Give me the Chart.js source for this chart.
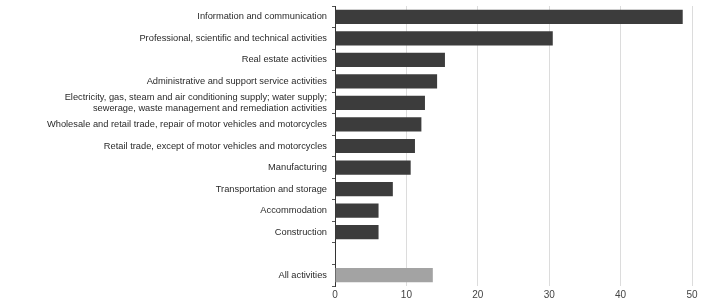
<!DOCTYPE html>
<html>
<head>
<meta charset="utf-8">
<script src="https://cdn.jsdelivr.net/npm/chart.js@4.4.0/dist/chart.umd.min.js"></script>
<style>
  html, body { margin: 0; padding: 0; background: #fff; }
  #wrap { width: 703px; height: 301px; }
</style>
</head>
<body>
<div id="wrap"><canvas id="chart" width="703" height="301"></canvas></div>
<script>
// sectors, top to bottom (empty slot before "All activities")
var sectors = [
	"Information and communication",
	"Professional, scientific and technical activities",
	"Real estate activities",
	"Administrative and support service activities",
	["Electricity, gas, steam and air conditioning supply; water supply;", "sewerage, waste management and remediation activities"],
	"Wholesale and retail trade, repair of motor vehicles and motorcycles",
	"Retail trade, except of motor vehicles and motorcycles",
	"Manufacturing",
	"Transportation and storage",
	"Accommodation",
	"Construction",
	"",
	"All activities"
];
var values = [48.7, 30.5, 15.4, 14.3, 12.6, 12.1, 11.2, 10.6, 8.1, 6.1, 6.1, null, 13.7];
var xTicks = [0, 10, 20, 30, 40, 50];

var barColors = values.map(function (v, i) {
	return sectors[i] == "All activities" ? "#a3a3a3" : "#3c3c3c";
});

var ctx = document.getElementById("chart");
new Chart(ctx, {
	type: "bar",
	data: {
		labels: sectors,
		datasets: [{
			data: values,
			backgroundColor: barColors,
			borderWidth: 0,
			barPercentage: 0.66,
			categoryPercentage: 1
		}]
	},
	options: {
		indexAxis: "y",
		responsive: false,
		animation: false,
		layout: { padding: { top: 6, right: 11, left: 0, bottom: 0 } },
		plugins: { legend: { display: false }, tooltip: { enabled: false } },
		scales: {
			x: {
				min: 0,
				max: 50,
				afterBuildTicks: function (axis) {
					axis.ticks = xTicks.map(function (v) { return { value: v }; });
				},
				afterFit: function (axis) { axis.height = 15; },
				grid: { color: "#dcdcdc", lineWidth: 1, drawTicks: false },
				border: { display: false },
				ticks: { color: "#444", font: { family: "Liberation Sans", size: 10 }, padding: 3 }
			},
			y: {
				afterFit: function (axis) {
					axis.width = 335;
					axis.paddingTop = 0;
					axis.paddingBottom = 0;
				},
				grid: { drawOnChartArea: false, drawTicks: true, tickLength: 3, color: "#555" },
				border: { display: true, color: "#333", width: 1 },
				ticks: { color: "#2a2a2a", font: { family: "Liberation Sans", size: 9.3 }, padding: 5, autoSkip: false }
			}
		}
	}
});
</script>
</body>
</html>
